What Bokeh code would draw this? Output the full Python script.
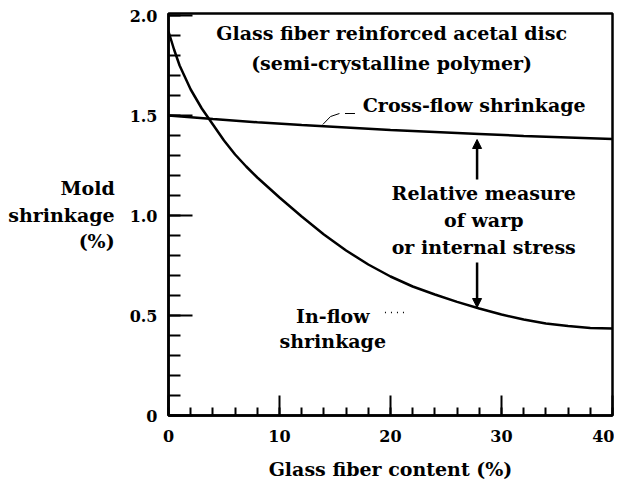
from bokeh.plotting import figure
from bokeh.models import (Range1d, SingleIntervalTicker, Label, Arrow, NormalHead)
from bokeh.embed import file_html
from bokeh.resources import INLINE

# ---- data ----
cross_x = [0, 4, 8, 12, 16, 20, 24, 28, 32, 36, 40]
cross_y = [1.50, 1.482, 1.466, 1.452, 1.44, 1.428, 1.418, 1.408, 1.398, 1.39, 1.382]

inflow_x = [0, 0.5, 1, 2, 3, 4, 5, 6, 7, 8, 9, 10, 12, 14, 16, 18, 20, 22, 24,
            26, 28, 30, 32, 34, 36, 38, 40]
inflow_y = [1.92, 1.83, 1.75, 1.63, 1.535, 1.455, 1.375, 1.305, 1.245, 1.19,
            1.14, 1.09, 0.995, 0.905, 0.825, 0.755, 0.695, 0.645, 0.605, 0.568,
            0.535, 0.505, 0.48, 0.46, 0.447, 0.438, 0.435]

y_tick_values = [0, 0.5, 1.0, 1.5, 2.0]
y_tick_labels = ["0", "0.5", "1.0", "1.5", "2.0"]
x_tick_values = [0, 10, 20, 30, 40]
x_tick_labels = ["0", "10", "20", "30", "40"]

title_lines = ["Glass fiber reinforced acetal disc", "(semi-crystalline polymer)"]
ylabel = "Mold\nshrinkage\n(%)"
xlabel = "Glass fiber content (%)"
warp_lines = ["Relative measure", "of warp", "or internal stress"]

FONT = "DejaVu Serif"
FS = "16px"
TS = "19px"

p = figure(width=614, height=484, output_backend="svg", toolbar_location=None,
           x_range=Range1d(0, 40), y_range=Range1d(0, 2.01),
           min_border_left=168, min_border_right=2, min_border_top=13,
           min_border_bottom=69)
p.grid.visible = False
p.outline_line_color = "black"
p.outline_line_width = 2.5
p.background_fill_color = "white"
p.border_fill_color = "white"

# axes
p.xaxis.ticker = SingleIntervalTicker(interval=10, num_minor_ticks=5)
p.yaxis.ticker = SingleIntervalTicker(interval=0.5, num_minor_ticks=5)
p.xaxis.major_label_overrides = dict(zip(x_tick_values, x_tick_labels))
p.yaxis.major_label_overrides = dict(zip(y_tick_values, y_tick_labels))
for ax in (p.xaxis[0], p.yaxis[0]):
    ax.axis_line_width = 2.5
    ax.axis_line_color = "black"
    ax.major_tick_out = 0
    ax.minor_tick_out = 0
    ax.major_tick_line_width = 2
    ax.minor_tick_line_width = 2
    ax.major_tick_line_color = "black"
    ax.minor_tick_line_color = "black"
    ax.major_label_text_font = FONT
    ax.major_label_text_font_size = FS
    ax.major_label_text_font_style = "bold"
    ax.major_label_text_color = "black"
    ax.axis_label_text_font = FONT
    ax.axis_label_text_font_size = TS
    ax.axis_label_text_font_style = "bold"
    ax.axis_label_text_color = "black"
p.xaxis.major_tick_in = 20
p.xaxis.minor_tick_in = 8
p.yaxis.major_tick_in = 24
p.yaxis.minor_tick_in = 12
p.xaxis.major_label_standoff = 14
p.yaxis.major_label_standoff = 11
p.xaxis.axis_label = xlabel
p.xaxis.axis_label_standoff = 13
p.yaxis.axis_label = ylabel
p.yaxis.axis_label_orientation = "horizontal"
p.yaxis.axis_label_standoff = 12

# curves
p.line(cross_x, cross_y, line_color="black", line_width=2.5)
p.line(inflow_x, inflow_y, line_color="black", line_width=2.5)

def lab(x, y, text, align="center", size=TS, style="bold"):
    p.add_layout(Label(x=x, y=y, text=text, text_align=align,
                       text_baseline="middle", text_font=FONT,
                       text_font_size=size, text_font_style=style,
                       text_color="black"))

# title
lab(20.1, 1.915, title_lines[0])
lab(20.1, 1.765, title_lines[1])

# cross-flow annotation and leader
lab(17.5, 1.555, "Cross-flow shrinkage", align="left")
p.line([13.9, 14.6, 15.4], [1.455, 1.495, 1.51], line_color="black", line_width=1)
p.line([15.9, 16.8], [1.51, 1.51], line_color="black", line_width=1)

# warp annotation with arrows
for i, t in enumerate(warp_lines):
    lab(28.4, 1.115 - 0.135 * i, t)
p.add_layout(Arrow(end=NormalHead(size=9, fill_color="black", line_color="black"),
                   x_start=27.8, y_start=1.18, x_end=27.8, y_end=1.38,
                   line_width=2.5, line_color="black"))
p.add_layout(Arrow(end=NormalHead(size=9, fill_color="black", line_color="black"),
                   x_start=27.8, y_start=0.765, x_end=27.8, y_end=0.54,
                   line_width=2.5, line_color="black"))

# in-flow annotation
lab(14.8, 0.50, "In-flow")
lab(14.8, 0.375, "shrinkage")
p.line([19.5, 21.4], [0.515, 0.515], line_color="black", line_width=1.5,
       line_dash="1 5")

open("out.html", "w").write(file_html(p, INLINE))
